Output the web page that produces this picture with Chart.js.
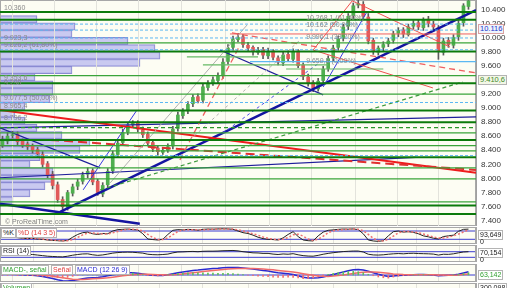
<!DOCTYPE html>
<html lang="es">
<head>
<meta charset="utf-8">
<title>IBEX 35 - diario</title>
<script src="https://cdn.jsdelivr.net/npm/chart.js@4.4.1/dist/chart.umd.min.js"></script>
<style>
  body { margin: 0; background: #fff; }
  #wrap { position: relative; width: 512px; height: 288px; overflow: hidden; background: #fff; }
  #wrap canvas { position: absolute; left: 0; }
  .tag { position: absolute; font: 7px "Liberation Sans", Arial, sans-serif; line-height: 8px; height: 8px;
         padding: 0 1px; background: #fff; border: 1px solid #b4b4b4; white-space: nowrap; }
  .txt { position: absolute; font: 7px "Liberation Sans", Arial, sans-serif; line-height: 8px; white-space: nowrap; }
</style>
</head>
<body>
<div id="wrap">
  <canvas id="perfil" width="512" height="226" style="top:0"></canvas>
  <canvas id="precio" width="512" height="226" style="top:0"></canvas>
  <canvas id="estoc" width="512" height="17" style="top:227px"></canvas>
  <canvas id="rsi" width="512" height="17" style="top:245px"></canvas>
  <canvas id="macd" width="512" height="18" style="top:264px"></canvas>
  <canvas id="vol" width="512" height="6" style="top:283px"></canvas>

  <div class="txt" style="left:5px;top:218px;color:#808080">© ProRealTime.com</div>
  <div class="tag" style="left:478px;top:24px;color:#2233cc;background:#eef4fc;border-color:#d9a0a0;font-size:7.5px">10.116</div>
  <div class="tag" style="left:478px;top:75px;color:#3f8a2c;background:#f3f7e6;font-size:7.5px">9.410,6</div>

  <div class="tag" style="left:1px;top:228px;color:#222">%K</div>
  <div class="tag" style="left:16px;top:228px;color:#e04040">%D (14 3 5)</div>
  <div class="tag" style="left:478px;top:230px;color:#222">93,649</div>
  <div class="txt" style="left:480px;top:238px;color:#222">0</div>

  <div class="tag" style="left:1px;top:246px;color:#222">RSI (14)</div>
  <div class="tag" style="left:478px;top:248px;color:#222">70,154</div>
  <div class="txt" style="left:480px;top:256px;color:#222">0</div>

  <div class="tag" style="left:1px;top:265px;color:#30a030">MACD-, señal</div>
  <div class="tag" style="left:51px;top:265px;color:#e04040">Señal</div>
  <div class="tag" style="left:75px;top:265px;color:#2a2ad0">MACD (12 26 9)</div>
  <div class="tag" style="left:478px;top:270px;color:#30a030">63,142</div>

  <div class="tag" style="left:1px;top:283px;color:#30a030">Volumen</div>
  <div class="tag" style="left:478px;top:283px;color:#222">300.098</div>
</div>

<script>
// Gráfica diaria del IBEX 35 con niveles, tendencias e indicadores.

// Posiciones (índice de vela) de las líneas verticales de la rejilla
var gridIdx = [6.1, 14.5, 22.9, 31.4, 40, 49, 57.4, 66, 74.8, 82.7, 91.3];
// Marcas del eje de precios
var priceTicks = [7400, 7600, 7800, 8000, 8200, 8400, 8600, 8800, 9000, 9200, 9400, 9600, 9800, 10000, 10200, 10400];

// Velas: apertura, máximo, mínimo, cierre
var opens = [8480,8530,8610,8630,8530,8490,8460,8410,8340,8210,
             8060,7910,7700,7590,7790,7890,7960,8060,8110,7960,
             7780,7910,8110,8340,8510,8660,8760,8790,8690,8630,
             8510,8430,8370,8400,8460,8710,8890,8960,9060,9160,
             9110,9290,9360,9390,9460,9660,9860,9970,10010,9890,
             9860,9790,9830,9740,9810,9710,9640,9760,9690,9810,
             9610,9440,9360,9270,9390,9560,9710,9860,9990,10160,
             10310,10460,10470,10290,9960,9790,9860,9910,9960,10060,
             10110,10040,10160,10210,10140,10260,10190,10140,9790,9960,
             9890,10010,10210,10440];
var highs = [8600,8650,8670,8660,8560,8520,8490,8440,8380,8240,
             8100,7950,7740,7830,7920,7990,8090,8150,8140,7990,
             7940,8140,8390,8550,8700,8790,8820,8820,8730,8660,
             8540,8470,8440,8490,8740,8940,8990,9090,9190,9200,
             9340,9390,9440,9500,9700,9900,10020,10060,10040,9930,
             9880,9860,9860,9850,9830,9740,9790,9810,9840,9830,
             9640,9480,9390,9420,9590,9740,9890,10020,10190,10340,
             10490,10530,10510,10340,9990,9880,9940,9990,10090,10140,
             10140,10190,10240,10250,10280,10300,10230,10170,9990,10000,
             10040,10240,10480,10540];
var lows = [8440,8490,8570,8480,8440,8410,8360,8300,8160,8010,
            7850,7660,7520,7550,7750,7840,7920,8010,7910,7760,
            7740,7870,8070,8300,8470,8620,8720,8660,8580,8460,
            8380,8330,8340,8370,8420,8670,8850,8920,9020,9070,
            9070,9250,9320,9350,9420,9620,9820,9940,9860,9810,
            9750,9760,9700,9700,9680,9610,9600,9660,9650,9570,
            9400,9310,9230,9240,9350,9520,9670,9820,9950,10110,
            10270,10420,10260,9910,9760,9750,9810,9870,9920,10010,
            10000,10020,10120,10110,10100,10150,10100,9690,9750,9860,
            9850,9960,10160,10400];
var closes = [8550,8600,8620,8520,8480,8450,8400,8350,8200,8050,
              7900,7700,7600,7800,7880,7950,8050,8100,7950,7800,
              7900,8100,8350,8500,8650,8750,8780,8700,8620,8500,
              8420,8380,8400,8450,8700,8900,8950,9050,9150,9100,
              9300,9350,9400,9450,9650,9850,9980,10000,9900,9850,
              9800,9820,9750,9800,9720,9650,9750,9700,9800,9600,
              9450,9350,9280,9380,9550,9700,9850,9980,10150,10300,
              10450,10480,10300,9950,9800,9850,9900,9950,10050,10100,
              10050,10150,10200,10150,10250,10200,10150,9800,9950,9900,
              10000,10200,10450,10520];

// Estocástico %K y %D
var stochK = [42,38,35,32,28,25,27,22,20,15,12,10,8,12,35,55,68,72,60,55,
              62,60,80,90,92,94,90,88,60,22,18,15,20,55,85,90,88,92,90,86,
              92,94,93,95,96,95,92,80,68,62,50,35,25,20,18,15,30,55,75,40,
              15,10,8,45,72,85,88,92,94,93,95,90,60,15,8,5,10,45,75,80,
              72,75,70,60,45,38,28,22,40,45,50,78,92,93.6];
var stochD = [45,41,38,35,31,28,27,25,22,18,15,12,10,10,18,34,52,65,66,62,
              59,59,67,77,87,92,92,91,80,56,33,18,18,30,53,77,88,90,90,89,
              89,91,93,94,95,95,94,89,80,70,60,49,37,27,21,18,21,33,53,57,
              43,22,11,21,42,68,82,88,91,93,94,93,82,55,28,10,8,20,43,67,
              76,76,72,68,58,48,37,29,30,36,45,58,73,88];

// RSI (14)
var rsi = [58,56,57,53,52,51,50,46,42,38,36,34,33,38,45,50,54,55,48,44,
           47,53,60,64,66,67,66,63,60,52,49,48,50,53,62,68,69,71,72,70,
           73,74,74,75,77,78,79,76,70,66,62,61,58,58,53,50,54,52,56,48,
           42,39,38,44,52,58,63,67,71,73,75,75,68,52,47,46,48,52,55,57,
           55,58,59,57,56,55,53,46,52,51,55,62,68,70.154];

// MACD (12 26 9), señal e histograma
var macd = [20,18,15,10,5,0,-5,-15,-30,-50,-70,-95,-115,-120,-110,-95,-75,-60,-55,-50,
            -35,-15,5,20,35,45,45,35,20,5,-5,-10,-8,5,25,45,60,75,90,98,
            110,120,128,135,145,150,152,148,140,130,118,105,90,78,62,45,35,25,10,-15,
            -45,-60,-62,-55,-40,-15,10,35,60,85,105,112,100,75,45,15,-10,-30,-20,-10,
            -5,0,5,8,10,5,0,-15,-10,-5,0,15,40,63.142];
var signal = [25,24,22,20,17,14,10,5,-2,-12,-25,-40,-57,-72,-83,-88,-88,-83,-77,-71,
              -64,-55,-43,-30,-17,-5,5,12,15,14,10,6,3,2,5,12,22,33,45,57,
              69,80,90,100,110,118,125,130,132,132,130,126,120,112,103,92,81,70,58,44,
              27,10,-5,-18,-26,-28,-22,-12,0,15,30,45,55,60,60,55,45,33,22,14,
              8,5,4,4,5,5,4,0,-2,-3,-3,0,8,18];
var histo = [-5,-6,-7,-10,-12,-14,-15,-20,-28,-38,-45,-55,-58,-48,-27,-7,13,23,22,21,
             29,40,48,50,52,50,40,23,5,-9,-15,-16,-11,3,20,33,38,42,45,41,
             41,40,38,35,35,32,27,18,8,-2,-12,-21,-30,-34,-41,-47,-46,-45,-48,-59,
             -72,-70,-57,-37,-14,13,32,47,60,70,75,67,45,15,-15,-40,-55,-63,-42,-24,
             -13,-5,1,4,5,0,-4,-15,-8,-2,3,15,32,45];

// Perfil de volumen por precio (centro del tramo, volumen relativo)
var profilePrice = [10480,10360,10240,10120,10000,9880,9760,9640,9520,9400,9280,9160,9040,
                    8920,8800,8680,8560,8440,8320,8200,8080,7960,7840,7720,7600,7480];
var profileVol = [37,75,72,128,155,160,140,72,35,53,53,50,25,
                  15,25,37,62,90,80,40,30,53,53,45,30,13];

// Niveles horizontales
var darkLevels = [10360, 10250, 9800, 9350, 8965, 8796, 8547, 8300, 7615, 7497];
var greenLevels = [9923, 9458, 9195, 8646, 8466, 8390, 8150, 7994, 7668];
var blueDashLevels = [10190, 10105, 9993, 9826, 9077.5, 8324];
var greenDashLevels = [8721];
var partialGreen = [[36.8, 51, 9724], [40, 65, 9610], [56.6, 76, 9553]];   // desde, hasta, precio
var lightBlueSeg = [[49.4, 94.5, 9657]];
var redSeg = [[45.4, 94.5, 10050]];

// Líneas de tendencia: [índice, precio]
var navyThick = [[[11.5, 7526], [94.5, 10390]], [[-0.5, 7640], [27.4, 7356]]];
var navyThin = [[[-0.5, 8010], [82.5, 8300]], [[-0.5, 8717], [94.5, 8873]],
                [[-0.5, 8717], [19.5, 8150]], [[43.4, 9823], [64, 9185]]];
var redThick = [[[-0.5, 8972], [94.5, 8079]]];
var redDash = [[[9.5, 8547], [94.5, 8121]]];
var redDashThin = [[[45.8, 10064], [94.5, 9497]], [[35.4, 8262], [47.4, 9892]]];
var redThin = [[[62, 9823], [69.8, 10520]], [[69.8, 10520], [89.3, 9865]], [[62, 9823], [85.9, 9284]]];
var grayThin = [[[21.5, 7937], [48.8, 10177]]];
var grayDash = [[[37.4, 8547], [59.4, 9965]]];
var greenDash = [[[19.5, 7838], [91.9, 9369]]];
var blueThin = [[[16.1, 7838], [26.8, 8967]], [[64, 9298], [72.6, 10347]]];
var blueDash = [[[44, 8644], [64, 9681]]];

// Etiquetas de niveles
var leftLabels = [[10360, '10.360'], [9923, '9.923,3'], [9826, '9.826,2 (61,80%)'], [9353.6, '9.353,6'],
                  [9290, '9.290'], [9077.5, '9.077,5 (50,00%)'], [8965, '8.965,4'], [8796, '8.796,2']];
var fibLabels = [[10268, '10.268,1 (61,80%)'], [10162, '10.162 (50,00%)'],
                 [9996, '9.996,1 (38,20%)'], [9650, '9.650,8 (0,00%)']];
var fibIdx = 60.6;

var stochBands = [80, 20];
var rsiBands = [70, 30];
var macdZero = [0];

var X_MIN = -0.5, X_MAX = 94.5;
var FONT = 'Liberation Sans';

Chart.defaults.font.family = FONT;

function fmtPrice(v) {
    var m = Math.floor(v / 1000);
    var r = String(Math.round(v % 1000));
    while (r.length < 3) r = '0' + r;
    return m + '.' + r;
}

function seg(pts, color, width, dash) {
    return {
        type: 'line',
        data: pts.map(function (p) { return { x: p[0], y: p[1] }; }),
        borderColor: color, borderWidth: width, borderDash: dash || [],
        pointRadius: 0, fill: false, tension: 0, order: 1
    };
}

function fixAxis(s) {
    s.width = 36;
    s.paddingTop = 0;
    s.paddingBottom = 0;
}

function xScale() {
    return {
        type: 'linear', min: X_MIN, max: X_MAX, offset: false,
        afterBuildTicks: function (s) { s.ticks = gridIdx.map(function (v) { return { value: v }; }); },
        afterFit: function (s) { s.paddingLeft = 0; s.paddingRight = 0; },
        ticks: { display: false },
        grid: { color: '#e3e3dc', drawTicks: false },
        border: { display: false }
    };
}

var panelBg = {
    id: 'panelBg',
    beforeDraw: function (c) {
        var a = c.chartArea, ctx = c.ctx;
        ctx.save();
        ctx.fillStyle = '#fdfdf3';
        ctx.fillRect(a.left, a.top, a.right - a.left, a.bottom - a.top);
        ctx.restore();
    },
    afterDraw: function (c) {
        var a = c.chartArea, ctx = c.ctx;
        ctx.save();
        ctx.strokeStyle = '#a8a8a8';
        ctx.lineWidth = 1;
        ctx.strokeRect(a.left + 0.5, a.top + 0.5, a.right - a.left - 1, a.bottom - a.top - 1);
        ctx.restore();
    }
};

var baseOpts = {
    responsive: false, animation: false, devicePixelRatio: 1, events: [],
    layout: { padding: 0 },
    plugins: { legend: { display: false }, tooltip: { enabled: false } }
};

// Perfil de volumen (debajo del precio)
new Chart(document.getElementById('perfil'), {
    type: 'bar',
    data: {
        datasets: [{
            data: profilePrice.map(function (p, i) { return { x: profileVol[i], y: p }; }),
            backgroundColor: 'rgba(192,192,238,0.85)',
            borderColor: '#8a8ad2', borderWidth: 1,
            barPercentage: 1, categoryPercentage: 1
        }]
    },
    options: Object.assign({}, baseOpts, {
        indexAxis: 'y',
        scales: {
            x: { type: 'linear', min: 0, max: 476, display: false },
            y: { type: 'linear', position: 'right', min: 7325, max: 10532, afterFit: fixAxis,
                 ticks: { display: false }, grid: { display: false }, border: { display: false } }
        }
    }),
    plugins: [panelBg]
});

// Precio: velas, niveles y tendencias
var priceSets = [];
priceSets.push({
    type: 'bar', label: 'mecha', grouped: false, order: 20,
    data: lows.map(function (l, i) { return { x: i, y: [l, highs[i]] }; }),
    backgroundColor: '#5a5a5a', barThickness: 1
});
priceSets.push({
    type: 'bar', label: 'cuerpo', grouped: false, order: 19,
    data: opens.map(function (o, i) { return { x: i, y: [o, closes[i]] }; }),
    backgroundColor: closes.map(function (c, i) { return c >= opens[i] ? '#4fae4f' : '#e05a5a'; }),
    borderColor: '#5a5a5a', borderWidth: 0, barThickness: 3
});

blueDashLevels.forEach(function (v) { priceSets.push(seg([[X_MIN, v], [X_MAX, v]], '#5cb8f2', 1, [3, 2])); });
greenLevels.forEach(function (v) { priceSets.push(seg([[X_MIN, v], [X_MAX, v]], '#3aa43a', 1.2)); });
greenDashLevels.forEach(function (v) { priceSets.push(seg([[X_MIN, v], [X_MAX, v]], '#2a962a', 1.2, [4, 3])); });
darkLevels.forEach(function (v) { priceSets.push(seg([[X_MIN, v], [X_MAX, v]], '#0b7a0b', 2)); });
partialGreen.forEach(function (s) { priceSets.push(seg([[s[0], s[2]], [s[1], s[2]]], '#64b864', 1.2)); });
lightBlueSeg.forEach(function (s) { priceSets.push(seg([[s[0], s[2]], [s[1], s[2]]], '#5cb8f2', 1.2)); });
redSeg.forEach(function (s) { priceSets.push(seg([[s[0], s[2]], [s[1], s[2]]], '#f06060', 1)); });

greenDash.forEach(function (p) { priceSets.push(seg(p, '#3c9a3c', 1.2, [4, 3])); });
grayThin.forEach(function (p) { priceSets.push(seg(p, '#b0b0b0', 1)); });
grayDash.forEach(function (p) { priceSets.push(seg(p, '#b0b0b0', 1, [3, 3])); });
blueDash.forEach(function (p) { priceSets.push(seg(p, '#4a4ae8', 1, [3, 3])); });
redDashThin.forEach(function (p) { priceSets.push(seg(p, '#f06060', 1.3, [6, 4])); });
redDash.forEach(function (p) { priceSets.push(seg(p, '#e03030', 2, [9, 5])); });
redThin.forEach(function (p) { priceSets.push(seg(p, '#f05050', 1)); });
redThick.forEach(function (p) { priceSets.push(seg(p, '#ee1c1c', 2)); });
blueThin.forEach(function (p) { priceSets.push(seg(p, '#3838e0', 1)); });
navyThin.forEach(function (p) { priceSets.push(seg(p, '#1e1e9a', 1.2)); });
navyThick.forEach(function (p) { priceSets.push(seg(p, '#1414a0', 2.5)); });

var levelText = {
    id: 'levelText',
    afterDatasetsDraw: function (c) {
        var ctx = c.ctx, y = c.scales.y, x = c.scales.x;
        ctx.save();
        ctx.font = '7px ' + FONT;
        ctx.fillStyle = '#8a8a8a';
        ctx.textBaseline = 'bottom';
        leftLabels.forEach(function (l) {
            ctx.fillText(l[1], c.chartArea.left + 4, y.getPixelForValue(l[0]) - 1);
        });
        ctx.textBaseline = 'middle';
        fibLabels.forEach(function (l) {
            ctx.fillText(l[1], x.getPixelForValue(fibIdx), y.getPixelForValue(l[0]) - 1);
        });
        ctx.restore();
    }
};

new Chart(document.getElementById('precio'), {
    type: 'bar',
    data: { datasets: priceSets },
    options: Object.assign({}, baseOpts, {
        scales: {
            x: xScale(),
            y: {
                type: 'linear', position: 'right', min: 7325, max: 10532,
                afterBuildTicks: function (s) {
                    s.ticks = priceTicks.map(function (v) { return { value: v }; });
                },
                afterFit: fixAxis,
                ticks: { padding: 5, color: '#333', font: { size: 8 },
                         callback: function (v) { return fmtPrice(v); } },
                grid: { display: false, drawTicks: false },
                border: { color: '#a0a0a0' }
            }
        }
    }),
    plugins: [levelText]
});

// Paneles inferiores
function serie(values, color, width, dash) {
    return {
        data: values.map(function (v, i) { return { x: i, y: v }; }),
        borderColor: color, borderWidth: width, borderDash: dash || [],
        pointRadius: 0, fill: false, tension: 0
    };
}

function bands(values, color) {
    return values.map(function (v) { return seg([[X_MIN, v], [X_MAX, v]], color, 1); });
}

function panel(id, yMin, yMax, datasets) {
    return new Chart(document.getElementById(id), {
        type: 'line',
        data: { datasets: datasets },
        options: Object.assign({}, baseOpts, {
            scales: {
                x: xScale(),
                y: { type: 'linear', position: 'right', min: yMin, max: yMax, afterFit: fixAxis,
                     ticks: { display: false }, grid: { display: false }, border: { color: '#a8a8a8' } }
            }
        }),
        plugins: [panelBg]
    });
}

panel('estoc', -14, 109, bands(stochBands, '#3a3ad0').concat([
    serie(stochD, '#f07070', 1.5, [2, 2]),
    serie(stochK, '#222', 1)
]));

panel('rsi', -3.5, 118, bands(rsiBands, '#3a3ad0').concat([
    serie(rsi, '#222', 1)
]));

panel('macd', -140, 220, bands(macdZero, '#3a3ad0').concat([
    {
        type: 'bar', grouped: false, barThickness: 1,
        data: histo.map(function (v, i) { return { x: i, y: v }; }),
        backgroundColor: histo.map(function (v) { return v >= 0 ? '#5cc05c' : '#f07070'; })
    },
    serie(signal, '#f06a6a', 1.5),
    serie(macd, '#2a2ad0', 1.5)
]));

panel('vol', 0, 1, []);
</script>
</body>
</html>
